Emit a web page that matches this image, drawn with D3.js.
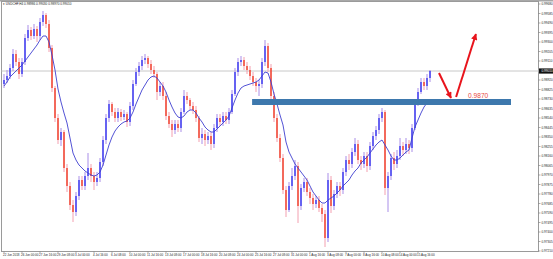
<!DOCTYPE html>
<html>
<head>
<meta charset="utf-8">
<script src="https://cdn.jsdelivr.net/npm/d3@7"></script>
<style>
  html, body { margin: 0; padding: 0; background: #fff; }
  svg { display: block; }
  text { font-family: "Liberation Sans", Arial, sans-serif; }
</style>
</head>
<body>
<svg id="chart" width="553" height="259"></svg>
<script>
// USDCHF H4, one entry per bar (prices)
const opens = [
  0.9888,0.9892,0.9896,0.9904,0.9918,0.9910,0.9898,0.9910,0.9934,0.9942,0.9936,0.9943,
  0.9936,0.9950,0.9957,0.9948,0.9924,0.9884,0.9854,0.9832,0.9840,0.9804,0.9786,0.9767,
  0.9760,0.9776,0.9792,0.9786,0.9796,0.9804,0.9796,0.9790,0.9794,0.9810,0.9832,0.9854,
  0.9868,0.9860,0.9854,0.9860,0.9855,0.9858,0.9850,0.9866,0.9888,0.9900,0.9906,0.9912,
  0.9914,0.9908,0.9902,0.9898,0.9880,0.9886,0.9876,0.9856,0.9848,0.9842,0.9848,0.9844,
  0.9860,0.9876,0.9872,0.9866,0.9862,0.9854,0.9834,0.9838,0.9832,0.9836,0.9828,0.9844,
  0.9854,0.9850,0.9856,0.9852,0.9860,0.9878,0.9900,0.9910,0.9912,0.9906,0.9902,0.9896,
  0.9890,0.9886,0.9888,0.9910,0.9926,0.9904,0.9876,0.9854,0.9834,0.9814,0.9782,0.9762,
  0.9786,0.9796,0.9806,0.9766,0.9784,0.9790,0.9780,0.9774,0.9768,0.9772,0.9764,0.9758,
  0.9734,0.9792,0.9766,0.9778,0.9786,0.9782,0.9800,0.9812,0.9808,0.9820,0.9828,0.9812,
  0.9808,0.9816,0.9806,0.9826,0.9836,0.9842,0.9854,0.9860,0.9784,0.9796,0.9814,0.9808,
  0.9816,0.9826,0.9822,0.9828,0.9824,0.9844,0.9868,0.9880,0.9890,0.9886,0.9894
]
const highs = [
  0.9898,0.9902,0.9908,0.9923,0.9922,0.9914,0.9914,0.9938,0.9947,0.9945,0.9948,0.9946,
  0.9954,0.9961,0.9959,0.9952,0.9927,0.9886,0.9858,0.9844,0.9842,0.9808,0.9790,0.9772,
  0.9780,0.9796,0.9796,0.9800,0.9819,0.9808,0.9800,0.9800,0.9814,0.9836,0.9858,0.9872,
  0.9870,0.9864,0.9864,0.9863,0.9862,0.9860,0.9870,0.9892,0.9904,0.9910,0.9916,0.9918,
  0.9916,0.9912,0.9906,0.9900,0.9890,0.9890,0.9880,0.9860,0.9852,0.9852,0.9852,0.9864,
  0.9882,0.9880,0.9874,0.9870,0.9866,0.9856,0.9844,0.9842,0.9840,0.9840,0.9848,0.9858,
  0.9858,0.9860,0.9860,0.9864,0.9882,0.9904,0.9914,0.9916,0.9915,0.9910,0.9906,0.9900,
  0.9894,0.9892,0.9914,0.9932,0.9929,0.9908,0.9880,0.9858,0.9838,0.9818,0.9786,0.9790,
  0.9804,0.9812,0.9810,0.9788,0.9794,0.9794,0.9784,0.9778,0.9776,0.9776,0.9768,0.9762,
  0.9799,0.9796,0.9782,0.9790,0.9790,0.9804,0.9816,0.9818,0.9824,0.9834,0.9832,0.9816,
  0.9820,0.9820,0.9830,0.9840,0.9846,0.9858,0.9864,0.9862,0.9800,0.9818,0.9820,0.9822,
  0.9834,0.9830,0.9834,0.9832,0.9848,0.9872,0.9884,0.9894,0.9894,0.9898,0.9902
]
const lows = [
  0.9884,0.9889,0.9893,0.9901,0.9906,0.9893,0.9895,0.9907,0.9931,0.9932,0.9933,0.9930,
  0.9932,0.9946,0.9944,0.9920,0.9880,0.9850,0.9828,0.9826,0.9800,0.9780,0.9762,0.9750,
  0.9756,0.9772,0.9782,0.9782,0.9792,0.9790,0.9782,0.9786,0.9790,0.9806,0.9828,0.9850,
  0.9856,0.9850,0.9850,0.9851,0.9852,0.9845,0.9846,0.9862,0.9886,0.9896,0.9902,0.9908,
  0.9904,0.9898,0.9894,0.9872,0.9876,0.9872,0.9852,0.9844,0.9835,0.9838,0.9840,0.9840,
  0.9858,0.9868,0.9862,0.9858,0.9850,0.9830,0.9828,0.9826,0.9828,0.9822,0.9824,0.9840,
  0.9846,0.9846,0.9848,0.9848,0.9858,0.9876,0.9896,0.9906,0.9902,0.9898,0.9892,0.9886,
  0.9880,0.9876,0.9884,0.9906,0.9900,0.9872,0.9850,0.9830,0.9810,0.9778,0.9755,0.9760,
  0.9782,0.9792,0.9749,0.9762,0.9780,0.9776,0.9768,0.9762,0.9764,0.9760,0.9750,0.9725,
  0.9730,0.9759,0.9762,0.9774,0.9776,0.9778,0.9796,0.9802,0.9804,0.9816,0.9808,0.9802,
  0.9804,0.9800,0.9802,0.9822,0.9832,0.9838,0.9850,0.9777,0.9760,0.9792,0.9802,0.9804,
  0.9812,0.9816,0.9818,0.9818,0.9820,0.9842,0.9866,0.9878,0.9882,0.9882,0.9890
]
const closes = [
  0.9892,0.9896,0.9904,0.9918,0.9910,0.9898,0.9910,0.9934,0.9942,0.9936,0.9943,0.9936,
  0.9950,0.9957,0.9948,0.9924,0.9884,0.9854,0.9832,0.9840,0.9804,0.9786,0.9767,0.9760,
  0.9776,0.9792,0.9786,0.9796,0.9804,0.9796,0.9790,0.9794,0.9810,0.9832,0.9854,0.9868,
  0.9860,0.9854,0.9860,0.9855,0.9858,0.9850,0.9866,0.9888,0.9900,0.9906,0.9912,0.9914,
  0.9908,0.9902,0.9898,0.9880,0.9886,0.9876,0.9856,0.9848,0.9842,0.9848,0.9844,0.9860,
  0.9876,0.9872,0.9866,0.9862,0.9854,0.9834,0.9838,0.9832,0.9836,0.9828,0.9844,0.9854,
  0.9850,0.9856,0.9852,0.9860,0.9878,0.9900,0.9910,0.9912,0.9906,0.9902,0.9896,0.9890,
  0.9886,0.9888,0.9910,0.9926,0.9904,0.9876,0.9854,0.9834,0.9814,0.9782,0.9762,0.9786,
  0.9796,0.9806,0.9766,0.9784,0.9790,0.9780,0.9774,0.9768,0.9772,0.9764,0.9758,0.9734,
  0.9792,0.9766,0.9778,0.9786,0.9782,0.9800,0.9812,0.9808,0.9820,0.9828,0.9812,0.9808,
  0.9816,0.9806,0.9826,0.9836,0.9842,0.9854,0.9860,0.9784,0.9796,0.9814,0.9808,0.9816,
  0.9826,0.9822,0.9828,0.9824,0.9844,0.9868,0.9880,0.9890,0.9886,0.9894,0.9901
]
// moving average line as it is drawn on the chart
const maValues = [
  0.9886,0.9890,0.9895,0.9898,0.9901,0.9904,0.9907,0.9911,0.9915,0.9919,0.9923,0.9927,
  0.9932,0.9936,0.9936,0.9930,0.9917,0.9902,0.9883,0.9870,0.9859,0.9849,0.9834,0.9819,
  0.9812,0.9807,0.9804,0.9801,0.9799,0.9797,0.9796,0.9797,0.9800,0.9807,0.9817,0.9827,
  0.9835,0.9841,0.9845,0.9848,0.9850,0.9851,0.9854,0.9860,0.9868,0.9875,0.9882,0.9887,
  0.9892,0.9895,0.9896,0.9894,0.9890,0.9886,0.9880,0.9872,0.9865,0.9859,0.9855,0.9854,
  0.9856,0.9860,0.9862,0.9862,0.9859,0.9854,0.9850,0.9845,0.9842,0.9840,0.9840,0.9843,
  0.9846,0.9849,0.9852,0.9856,0.9864,0.9872,0.9879,0.9884,0.9886,0.9887,0.9888,0.9889,
  0.9890,0.9892,0.9896,0.9900,0.9899,0.9890,0.9878,0.9868,0.9857,0.9847,0.9830,0.9820,
  0.9814,0.9808,0.9804,0.9800,0.9796,0.9792,0.9786,0.9780,0.9776,0.9772,0.9769,0.9769,
  0.9772,0.9774,0.9776,0.9779,0.9782,0.9786,0.9789,0.9792,0.9797,0.9801,0.9804,0.9809,
  0.9812,0.9815,0.9819,0.9823,0.9827,0.9830,0.9832,0.9827,0.9822,0.9816,0.9812,0.9812,
  0.9814,0.9817,0.9820,0.9822,0.9834,0.9845,0.9852,0.9859,0.9865,0.9869,0.9872
]
// one time label every 6 bars
const timeLabels = [
  '22 Jun 2018', '26 Jun 00:00', '27 Jun 16:00', '29 Jun 08:00', '3 Jul 00:00', '4 Jul 16:00',
  '6 Jul 08:00', '10 Jul 00:00', '11 Jul 16:00', '13 Jul 08:00', '17 Jul 00:00', '18 Jul 16:00',
  '20 Jul 08:00', '24 Jul 00:00', '25 Jul 16:00', '27 Jul 08:00', '31 Jul 00:00', '1 Aug 16:00',
  '3 Aug 08:00', '7 Aug 00:00', '8 Aug 16:00', '10 Aug 08:00', '14 Aug 00:00', '15 Aug 16:00'
]
const priceTicks = [
  0.99680, 0.99585, 0.99490, 0.99395, 0.99300, 0.99205, 0.99110, 0.98920, 0.98825,
  0.98730, 0.98635, 0.98540, 0.98445, 0.98350, 0.98255, 0.98160, 0.98065, 0.97970,
  0.97875, 0.97780, 0.97685, 0.97590, 0.97495, 0.97400, 0.97305, 0.97210
]
const symbolTitle = 'USDCHF,H4  0.98986 0.99030 0.98970 0.99010'
const bidPrice = 0.99010

// drawn objects, in bar index / price
const zoneLevel = 0.9870
const zoneHalf = 0.0003
const zoneBars = [82.7, 169]
const arrowDown = [[145, 0.9899], [149, 0.9874]]
const arrowUp = [[150.7, 0.9875], [157.3, 0.9938]]
const levelLabel = { bar: 154.7, price: 0.9874, text: '0.9870' }

const frame = { left: 1.5, right: 538.5, top: 1.5, bottom: 251.5 }
const upColor = '#3434f0', downColor = '#f03a22', maColor = '#3f3fd0'

const svg = d3.select('#chart')
const x = d3.scaleLinear().domain([0, closes.length - 1]).range([4, 430])
const y = d3.scaleLinear().domain([0.9720, 0.9972]).range([252, 0])

svg.append('rect').attr('width', 553).attr('height', 259).attr('fill', '#fff')

// window frame
svg.append('rect').attr('x', 0).attr('y', 0).attr('width', 553).attr('height', 1.5).attr('fill', '#a8a8a8')
svg.append('rect')
  .attr('x', frame.left).attr('y', frame.top)
  .attr('width', frame.right - frame.left).attr('height', frame.bottom - frame.top)
  .attr('fill', 'none').attr('stroke', '#9a9a9a').attr('stroke-width', 1)

// bid line
svg.append('line')
  .attr('x1', frame.left).attr('x2', frame.right)
  .attr('y1', y(bidPrice)).attr('y2', y(bidPrice))
  .attr('stroke', '#c8c8c8').attr('stroke-width', 1)

// candles
const bars = d3.range(closes.length).map(i => ({
  i: i, o: opens[i], h: highs[i], l: lows[i], c: closes[i]
}))
const candle = svg.append('g').selectAll('g').data(bars).join('g')
candle.append('line')
  .attr('x1', d => x(d.i)).attr('x2', d => x(d.i))
  .attr('y1', d => y(d.h)).attr('y2', d => y(d.l))
  .attr('stroke', d => d.c >= d.o ? '#a98ee8' : '#f3a0b0')
  .attr('stroke-width', 1)
candle.append('rect')
  .attr('x', d => x(d.i) - 0.8).attr('width', 1.6)
  .attr('y', d => y(Math.max(d.o, d.c)))
  .attr('height', d => Math.max(1, y(Math.min(d.o, d.c)) - y(Math.max(d.o, d.c))))
  .attr('fill', d => d.c >= d.o ? upColor : downColor)
  .attr('fill-opacity', 0.85)

// moving average
svg.append('path')
  .datum(maValues)
  .attr('d', d3.line().x((d, i) => x(i)).y(d => y(d)))
  .attr('fill', 'none').attr('stroke', maColor).attr('stroke-width', 0.9)

// support zone
svg.append('rect')
  .attr('x', x(zoneBars[0])).attr('width', x(zoneBars[1]) - x(zoneBars[0]))
  .attr('y', y(zoneLevel + zoneHalf)).attr('height', y(zoneLevel - zoneHalf) - y(zoneLevel + zoneHalf))
  .attr('fill', '#3d78ad')

// arrows
svg.append('defs').append('marker')
  .attr('id', 'head').attr('viewBox', '0 0 10 10')
  .attr('refX', 9).attr('refY', 5)
  .attr('markerWidth', 3.6).attr('markerHeight', 3.2)
  .attr('orient', 'auto')
  .append('path').attr('d', 'M0,0 L10,5 L0,10 z').attr('fill', '#e8141c')

;[arrowDown, arrowUp].forEach(pts => {
  svg.append('line')
    .attr('x1', x(pts[0][0])).attr('y1', y(pts[0][1]))
    .attr('x2', x(pts[1][0])).attr('y2', y(pts[1][1]))
    .attr('stroke', '#e8141c').attr('stroke-width', 2)
    .attr('marker-end', 'url(#head)')
})

svg.append('text')
  .attr('x', x(levelLabel.bar)).attr('y', y(levelLabel.price))
  .attr('font-size', 6.6).attr('fill', '#e84a44')
  .text(levelLabel.text)

// price scale
const yTicks = svg.append('g')
yTicks.selectAll('line').data(priceTicks).join('line')
  .attr('x1', frame.right).attr('x2', frame.right + 2)
  .attr('y1', d => y(d)).attr('y2', d => y(d))
  .attr('stroke', '#777').attr('stroke-width', 0.6)
yTicks.selectAll('text').data(priceTicks).join('text')
  .attr('x', 541.5).attr('y', d => y(d)).attr('dy', '0.35em')
  .attr('font-size', 3.1).attr('fill', '#222')
  .text(d => d.toFixed(5))

// bid price box
svg.append('rect')
  .attr('x', frame.right + 0.5).attr('y', y(bidPrice) - 2.6)
  .attr('width', 14).attr('height', 5.2).attr('fill', '#111')
svg.append('text')
  .attr('x', 541.5).attr('y', y(bidPrice)).attr('dy', '0.35em')
  .attr('font-size', 3.1).attr('fill', '#fff')
  .text(bidPrice.toFixed(5))

// time scale
const xTicks = svg.append('g')
const tickBars = timeLabels.map((t, k) => k * 6)
xTicks.selectAll('line').data(tickBars).join('line')
  .attr('x1', d => x(d)).attr('x2', d => x(d))
  .attr('y1', frame.bottom).attr('y2', frame.bottom + 1.5)
  .attr('stroke', '#777').attr('stroke-width', 0.6)
xTicks.selectAll('text').data(timeLabels).join('text')
  .attr('x', (d, k) => x(tickBars[k]) - 1).attr('y', 256)
  .attr('font-size', 3).attr('fill', '#222')
  .text(d => d)

// symbol caption
svg.append('text')
  .attr('x', 3).attr('y', 5.2)
  .attr('font-size', 3.1).attr('fill', '#222')
  .text('\u25BE ' + symbolTitle)
</script>
</body>
</html>
